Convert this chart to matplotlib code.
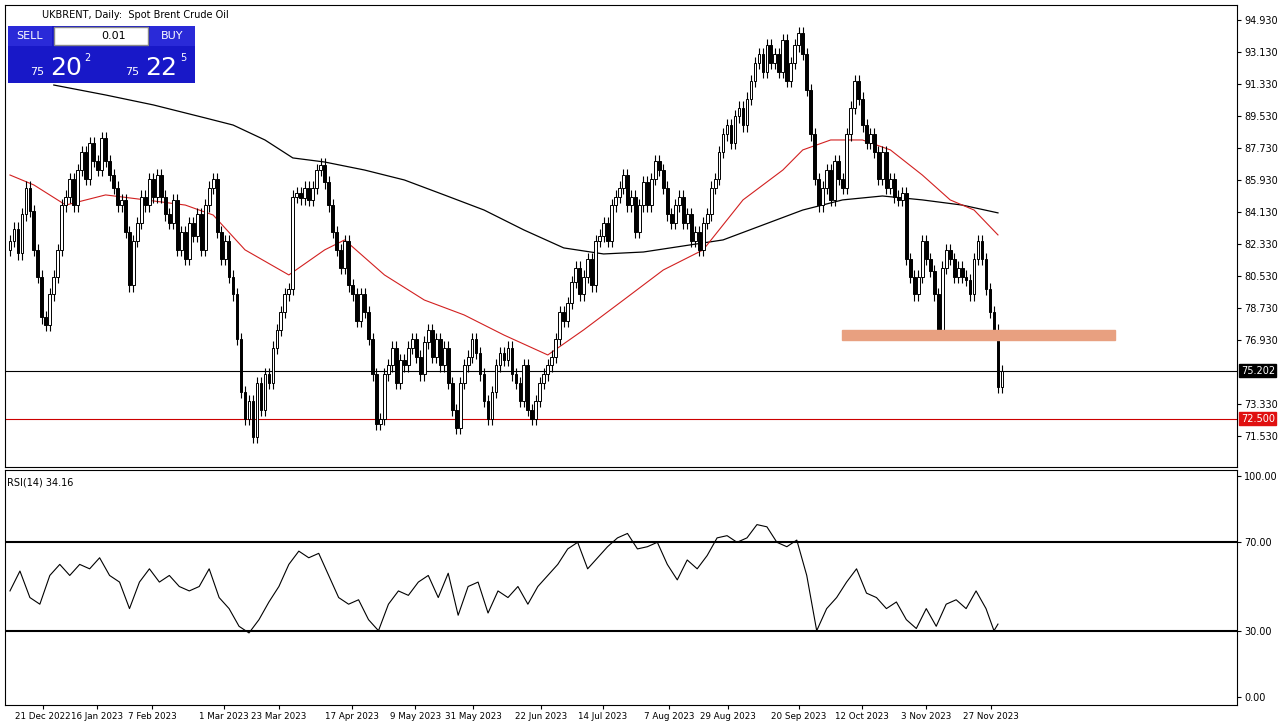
import numpy as np
import matplotlib
matplotlib.use("Agg")
import matplotlib.pyplot as plt
from matplotlib.patches import Rectangle

closes = [82.5,83.2,81.8,84.0,85.5,84.2,82.0,80.5,78.2,77.8,
79.5,80.5,82.0,84.5,85.0,86.0,84.5,86.5,87.5,86.0,
88.0,87.0,86.5,88.3,87.0,86.2,85.5,84.5,84.8,83.0,
80.0,82.5,83.5,85.0,84.5,86.0,85.0,86.2,85.0,84.0,
83.5,84.8,82.0,83.0,81.5,83.5,82.8,84.0,82.0,84.5,
85.5,86.0,83.0,81.5,82.5,80.5,79.5,77.0,74.0,72.5,
73.5,71.5,74.5,73.0,75.0,74.5,76.5,77.5,78.5,79.5,
79.8,85.0,85.2,84.9,85.5,84.8,85.5,86.5,86.8,85.8,
84.5,83.0,82.0,81.0,82.5,80.0,79.5,78.0,79.5,78.5,
77.0,75.0,72.2,72.5,75.0,75.5,76.5,74.5,75.8,75.5,
76.5,77.0,76.0,75.0,76.8,77.5,76.0,77.0,75.5,76.5,
74.5,73.0,72.0,74.5,75.5,76.0,77.0,76.2,75.0,73.5,
72.5,74.0,75.5,76.2,75.8,76.5,75.0,74.5,73.5,75.5,
73.0,72.5,73.5,74.5,75.0,75.5,76.0,77.0,78.5,78.0,
79.0,80.2,81.0,79.5,80.5,81.5,80.0,82.5,82.8,83.5,
82.5,84.5,85.0,85.5,86.2,84.5,85.0,83.0,84.5,85.8,
84.5,86.0,87.0,86.5,85.5,84.0,83.5,84.5,85.0,83.5,
84.0,82.5,83.0,82.0,83.5,84.0,85.5,86.0,87.5,88.5,
89.0,88.0,89.5,90.0,89.0,90.5,91.5,92.5,93.0,92.0,
93.5,92.5,93.0,92.0,93.8,91.5,92.5,93.5,94.2,93.0,
91.0,88.5,86.0,84.5,85.5,86.5,84.8,87.0,86.0,85.5,
88.5,90.0,91.5,90.5,89.0,88.0,88.5,87.5,86.0,87.5,
85.5,86.0,85.0,84.8,85.2,81.5,80.5,79.5,80.5,82.5,
81.5,80.8,79.5,77.4,81.0,82.0,81.5,80.5,81.0,80.5,
80.3,79.5,81.5,82.5,81.5,79.8,78.5,77.5,74.3,75.2]
first_open = 82.0

ma200_idx = [11,24,36,49,56,64,71,79,89,99,109,119,129,139,149,159,169,179,189,199,209,219,229,239,248]
ma200_val = [91.27,90.71,90.15,89.42,89.02,88.18,87.17,86.94,86.49,85.93,85.09,84.24,83.12,82.11,81.77,81.88,82.22,82.56,83.40,84.24,84.81,85.03,84.81,84.52,84.08]
ma50_idx = [0,6,14,24,34,44,51,59,70,79,84,94,104,114,124,135,144,154,164,174,184,194,199,206,214,221,229,236,242,248]
ma50_val = [86.21,85.65,84.52,85.09,84.81,84.52,83.96,82.0,80.59,82.0,82.56,80.59,79.18,78.34,77.21,76.09,77.5,79.18,80.87,82.0,84.81,86.49,87.62,88.18,88.18,87.62,86.21,84.81,84.24,82.84]
rsi_val = [48,57,45,42,55,60,55,60,58,63,55,52,40,52,58,52,55,50,48,50,58,45,40,32,29,35,43,50,60,66,63,65,55,45,42,44,35,30,42,48,46,52,55,45,56,37,50,52,38,48,45,50,42,50,55,60,67,70,58,63,68,72,74,67,68,70,60,53,62,58,64,72,73,70,72,78,77,70,68,71,55,30,40,45,52,58,47,45,40,43,35,31,40,32,42,44,40,48,40,30,33]
rsi_idx = list(np.arange(0, 99) * 2.5) + [247, 248]

date_labels = ["21 Dec 2022","16 Jan 2023","7 Feb 2023","1 Mar 2023","23 Mar 2023","17 Apr 2023","9 May 2023","31 May 2023","22 Jun 2023","14 Jul 2023","7 Aug 2023","29 Aug 2023","20 Sep 2023","12 Oct 2023","3 Nov 2023","27 Nov 2023"]
date_pos = [8.25,21.75,35.75,53.75,67.5,85.75,101.75,116.25,133.25,148.75,165.5,180.25,198,213.75,230,246.25]
price_ticks = [94.93,93.13,91.33,89.53,87.73,85.93,84.13,82.33,80.53,78.73,76.93,73.33,71.53]
last_price = 75.202
level_red = 72.5
zone_lo, zone_hi = 76.93, 77.49
zone_start, zone_end = 208.75, 277.5

W, H = 1287, 726
fig = plt.figure(figsize=(W/100, H/100), dpi=100)
def ax_px(x0, y0, x1, y1):
    return fig.add_axes([x0/W, 1-y1/H, (x1-x0)/W, (y1-y0)/H])

ax = ax_px(5, 5, 1237, 467)
ax2 = ax_px(5, 470, 1237, 705)

opens = [first_open] + closes[:-1]
for i, (o, c) in enumerate(zip(opens, closes)):
    hi = max(o, c) + 0.35; lo = min(o, c) - 0.35
    ax.vlines(i, lo, hi, color="black", lw=0.8, zorder=3)
    bull = c >= o
    ax.add_patch(Rectangle((i-0.35, min(o, c)), 0.7, max(abs(c-o), 0.05),
                 facecolor="white" if bull else "black", edgecolor="black", lw=0.7, zorder=4))
ax.plot(ma200_idx, ma200_val, color="black", lw=0.9, zorder=2)
ax.plot(ma50_idx, ma50_val, color="#d22020", lw=0.8, zorder=2)
ax.axhline(last_price, color="black", lw=0.8, zorder=1)
ax.axhline(level_red, color="#cc0000", lw=0.8, zorder=1)
ax.add_patch(Rectangle((zone_start, zone_lo), zone_end-zone_start, zone_hi-zone_lo, color="#e8a080", zorder=5))
ax.set_xlim(-1.25, 308)
ax.set_ylim(69.79, 95.77)
ax.yaxis.tick_right()
ax.set_yticks(price_ticks)
ax.set_yticklabels([f"{v:.3f}" for v in price_ticks], fontsize=7)
ax.set_xticks([])
ax.text(1.003, last_price, f"{last_price:.3f}", transform=ax.get_yaxis_transform(), fontsize=7, va="center",
        color="white", bbox=dict(boxstyle="square,pad=0.15", fc="black", ec="black"))
ax.text(1.003, level_red, f"{level_red:.3f}", transform=ax.get_yaxis_transform(), fontsize=7, va="center",
        color="white", bbox=dict(boxstyle="square,pad=0.15", fc="#e01010", ec="#e01010"))

ax2.plot(rsi_idx, rsi_val, color="black", lw=0.8)
ax2.axhline(70, color="black", lw=1.5); ax2.axhline(30, color="black", lw=1.5)
ax2.set_xlim(-1.25, 308); ax2.set_ylim(-3.6, 102.7)
ax2.yaxis.tick_right()
ax2.set_yticks([100, 70, 30, 0]); ax2.set_yticklabels(["100.00","70.00","30.00","0.00"], fontsize=7)
ax2.set_xticks(date_pos); ax2.set_xticklabels(date_labels, fontsize=6.3)
ax2.tick_params(axis="x", length=3, pad=2)
ax2.text(0.002, 0.97, "RSI(14) 34.16", transform=ax2.transAxes, fontsize=7, va="top")
for a in (ax, ax2):
    a.tick_params(axis="y", length=3, pad=2)
    for s in a.spines.values(): s.set_linewidth(0.8)

fig.text(42/W, 1-15/H, "UKBRENT, Daily:  Spot Brent Crude Oil", fontsize=7, va="center")
def rect_px(x0, y0, x1, y1, fc, ec="none"):
    fig.patches.append(Rectangle((x0/W, 1-y1/H), (x1-x0)/W, (y1-y0)/H, transform=fig.transFigure, fc=fc, ec=ec, zorder=10))
rect_px(8, 26, 195, 83, "#1818c8")
rect_px(8, 26, 52, 46, "#2a2ad8"); rect_px(150, 26, 195, 46, "#2a2ad8")
rect_px(54, 27, 148, 45, "white", "#888888")
fig.text(30/W, 1-36/H, "SELL", color="white", fontsize=8, ha="center", va="center", zorder=11)
fig.text(172/W, 1-36/H, "BUY", color="white", fontsize=8, ha="center", va="center", zorder=11)
fig.text(114/W, 1-36/H, "0.01", fontsize=8, ha="center", va="center", zorder=11)
fig.text(30/W, 1-72/H, "75", color="white", fontsize=8, va="center", zorder=11)
fig.text(50/W, 1-68/H, "20", color="white", fontsize=18, va="center", zorder=11)
fig.text(84/W, 1-58/H, "2", color="white", fontsize=7, va="center", zorder=11)
fig.text(125/W, 1-72/H, "75", color="white", fontsize=8, va="center", zorder=11)
fig.text(145/W, 1-68/H, "22", color="white", fontsize=18, va="center", zorder=11)
fig.text(180/W, 1-58/H, "5", color="white", fontsize=7, va="center", zorder=11)
fig.savefig("out.png", dpi=100)
